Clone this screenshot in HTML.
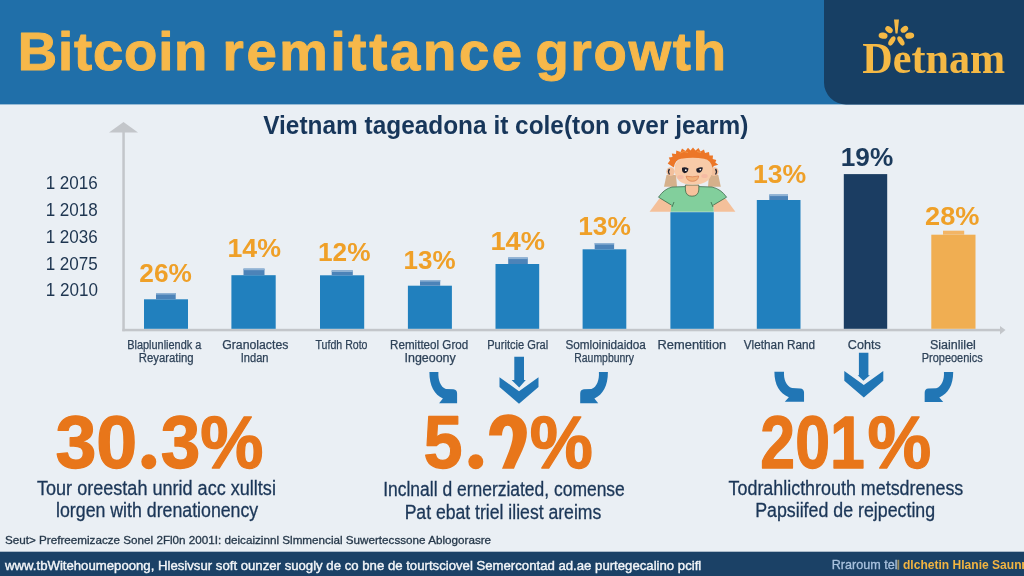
<!DOCTYPE html>
<html><head><meta charset="utf-8">
<style>
html,body{margin:0;padding:0;background:#e9eef3;}
body{width:1024px;height:576px;overflow:hidden;}
svg{display:block;will-change:transform;}

</style></head><body>
<svg width="1024" height="576" viewBox="0 0 1024 576">
<defs>
<path id="carr" d="M0,0 L9,0 C8.5,8 11,15 16.5,17 L24,17.3 Q27.7,17.6 27.7,21.5 L27.7,31.3 L9.7,31.3 L13.5,26.5 C5,22.5 0,14 0,0 Z"/>
<path id="chev" d="M0,0 L19.5,14 L39,0 L39,9.7 L19.5,26.5 L0,9.7 Z"/>
</defs>
<rect x="0" y="0" width="1024" height="576" fill="#eaeff4"/>
<rect x="0" y="0" width="1024" height="104.4" fill="#206fa9"/>
<path d="M824,0 L1024,0 L1024,104.4 L846,104.4 A22,22 0 0 1 824,82.4 Z" fill="#173f64"/>
<g fill="#f5b945">
<path d="M894,19.6 L899,19.6 L897.5,33.4 L895.5,33.4 Z"/>
<ellipse cx="889" cy="29.6" rx="4.1" ry="2.9" transform="rotate(35 889 29.6)"/>
<ellipse cx="904.4" cy="29.3" rx="4.1" ry="2.9" transform="rotate(-35 904.4 29.3)"/>
<ellipse cx="883.1" cy="35.6" rx="4.5" ry="3.1" transform="rotate(8 883.1 35.6)"/>
<ellipse cx="909.7" cy="35.6" rx="4.5" ry="3.1" transform="rotate(-8 909.7 35.6)"/>
<ellipse cx="891.9" cy="40.9" rx="5.2" ry="2.6" transform="rotate(-58 891.9 40.9)"/>
<ellipse cx="900.9" cy="40.9" rx="5.2" ry="2.6" transform="rotate(58 900.9 40.9)"/>
</g>
<g fill="#c3c6ca">
<rect x="122.3" y="130" width="2.5" height="201.2"/>
<path d="M109,132.6 L123.5,122 L138,132.6 Z"/>
<rect x="122.3" y="328.8" width="878" height="2.5"/>
<path d="M1000,326 L1005.5,330 L1000,334.6 Z"/>
</g>
<g fill="#2180be">
<rect x="144" y="299.3" width="44" height="29.5"/>
<rect x="231.4" y="275.2" width="44.3" height="53.6"/>
<rect x="320" y="275.3" width="44.2" height="53.5"/>
<rect x="407.9" y="285.7" width="44" height="43.1"/>
<rect x="495.5" y="264" width="43.7" height="64.8"/>
<rect x="582.6" y="249.3" width="43.7" height="79.5"/>
<rect x="670.4" y="212.2" width="43.4" height="116.6"/>
<rect x="756.8" y="200" width="43.7" height="128.8"/>
</g>
<rect x="843.8" y="174.1" width="43.4" height="154.7" fill="#1b3d62"/>
<rect x="931.3" y="234.7" width="44.2" height="94.1" fill="#f0ae52"/>
<g fill="#4c83b8">
<rect x="156" y="293" width="19.7" height="6.3"/>
<rect x="243.5" y="268.6" width="21" height="6.6"/>
<rect x="331.7" y="270.4" width="21.1" height="4.9"/>
<rect x="420" y="280" width="20.2" height="5.7"/>
<rect x="508.2" y="257.5" width="19.6" height="6.5"/>
<rect x="594.7" y="243" width="19.4" height="6.3"/>
<rect x="769.3" y="194.5" width="18.7" height="5.5"/>
</g>
<g fill="#8fb2d4">
<rect x="156" y="293" width="19.7" height="1.6"/>
<rect x="243.5" y="268.6" width="21" height="1.6"/>
<rect x="331.7" y="270.4" width="21.1" height="1.6"/>
<rect x="420" y="280" width="20.2" height="1.6"/>
<rect x="508.2" y="257.5" width="19.6" height="1.6"/>
<rect x="594.7" y="243" width="19.4" height="1.6"/>
<rect x="769.3" y="194.5" width="18.7" height="1.6"/>
</g>

<rect x="943" y="230.7" width="21.2" height="4" fill="#f3b565"/>
<g id="kid">
<path d="M649.6,211.8 L659,199 L666,197 L672,205 L671,211.8 Z" fill="#f4c09a"/>
<path d="M735.4,211.8 L726,199 L719,197 L713,205 L714,211.8 Z" fill="#f4c09a"/>
<path d="M664,186.8 L666.5,175 L676,175 L677,186.8 Z" fill="#d5b08b"/>
<path d="M720.8,186.8 L718.3,175 L709,175 L708,186.8 Z" fill="#d5b08b"/>
<path d="M658.5,197.2 Q664,189 672,187 L685.4,186.6 L698.8,186.6 L712,187 Q721,189 726.6,197.2 L713.2,205.2 L713.8,211.8 L670.6,211.8 L671.4,205.2 Z" fill="#82cf9c"/>
<path d="M658.5,197.2 L671.6,205.2 M726.6,197.2 L713.2,205.2 M658.5,197.2 Q664,189 672,187 L685.4,186.6 M698.8,186.6 L712,187 Q721,189 726.6,197.2 M674,202 L672,207 M711,202 L713,207" fill="none" stroke="#2f5a3e" stroke-width="0.7"/>
<path d="M685.4,185 L685.4,190 Q686,196.2 692,196.2 Q698.2,196.2 698.8,190 L698.8,185 Z" fill="#f6c29c" stroke="#2f5a3e" stroke-width="0.7"/>
<ellipse cx="670.6" cy="171.6" rx="4.2" ry="4.3" fill="#f3c09c"/>
<ellipse cx="714.4" cy="171.6" rx="4.2" ry="4.3" fill="#f3c09c"/>
<path d="M669.5,169 Q667.5,171.5 669.5,174.5 M715.5,169 Q717.5,171.5 715.5,174.5" fill="none" stroke="#2a2a33" stroke-width="1.3"/>
<path d="M674.6,169 Q674.8,184.8 692.5,184.8 Q712.2,184.8 712.3,169 Q712.3,156.5 692.5,156.5 Q674.6,156.5 674.6,169 Z" fill="#f8cba8"/>
<ellipse cx="680.5" cy="177" rx="3.2" ry="2" fill="#f4b0a0" opacity="0.6"/>
<ellipse cx="704.5" cy="176" rx="3.2" ry="2" fill="#f4b0a0" opacity="0.6"/>
<path d="M667.7,163.5 L670,160.5 L668.8,157.5 L672.5,157 L671.8,153.5 L676,154 L676.3,150.5 L680.5,152 L682,148.5 L685.5,151 L688,147.8 L690.5,150.5 L693,147.5 L695.5,150.5 L698.5,148 L700.5,151.5 L704,149.5 L705,153 L709,152 L709.5,155.5 L713,155.5 L712.7,159 L716.3,160 L715.3,162.5 L718.3,164.8 L713.8,166 L712.5,168 Q711,160 704,158.8 Q693,156.5 681,158.8 Q675,160 673.8,167.5 L671.5,166 Z" fill="#ec7627"/>
<path d="M680,153 L684,151.5 L688,152.5 M697,151.5 L701,152.5" stroke="#f39a4e" stroke-width="0.8" fill="none"/>
<path d="M682,167.8 Q685,166.5 688.5,168.5 Q688,173 684.5,173.2 Q682,172.5 682,170 Z" fill="#1e1e2a"/>
<path d="M696.3,168.8 Q699.5,166.5 702.8,167.6 Q702.6,171.5 699.5,172.8 Q696.5,173 696.3,170.5 Z" fill="#1e1e2a"/>
<circle cx="685.8" cy="170.2" r="0.9" fill="#fff"/>
<circle cx="700.3" cy="169.6" r="0.9" fill="#fff"/>
<path d="M686.1,176.2 Q692.4,177.6 698.7,176 Q698,181.3 692.4,181.3 Q687,181.3 686.1,176.2 Z" fill="#f2b27a" stroke="#d97a4a" stroke-width="0.7"/>
</g>
<g fill="#2176b5">
<use href="#carr" transform="translate(429.4,372)"/>
<use href="#carr" transform="translate(607.9,372) scale(-1,1)"/>
<use href="#carr" transform="translate(774.4,371.8) scale(1.07,0.96)"/>
<use href="#carr" transform="translate(953.2,372) scale(-1.03,0.96)"/>
<path d="M514.3,356.8 L524,356.8 L524,380.1 L525.8,380.1 L519.2,387.4 L511.6,380.1 L514.3,380.1 Z"/>
<use href="#chev" transform="translate(499.5,377.2)"/>
<path d="M858.9,352.8 L868.4,352.8 L868.4,375.2 L869.9,375.2 L863.4,380.7 L857.7,375.2 L858.9,375.2 Z"/>
<use href="#chev" transform="translate(844.3,371)"/>
</g>
<path d="M489,435.4 L502,435.4 C502.5,429 504.5,425.8 507.5,425.8 C511,425.8 513.2,429.5 512.8,436 C512.5,445 506,458 502,468.7 L514,468.7 C519,456 526.9,445 526.9,432.5 C526.9,421 519,414.3 508,414.3 C496,414.3 489.5,423 489,435.4 Z" fill="#e8761a"/>
<circle cx="148.8" cy="461.8" r="7.5" fill="#e8761a"/>
<circle cx="475.8" cy="461.8" r="7.5" fill="#e8761a"/>
<rect x="0" y="551.7" width="1024" height="24.3" fill="#1b4166"/>
<rect x="897.4" y="559.8" width="1.8" height="10" fill="#9c8d5e"/>

<g id="texts">
<text id="t1" x="0" transform="translate(17.81,0) scale(1.0,1)" y="70.4" font-size="54.5" fill="#f7b84a" font-family='"Liberation Sans",sans-serif' font-weight="bold" textLength="189.61" lengthAdjust="spacing" stroke="#f7b84a" stroke-width="1.0" stroke-linejoin="round">Bitcoin</text>
<text id="t2" x="0" transform="translate(222.51,0) scale(1.0,1)" y="70.4" font-size="54.5" fill="#f7b84a" font-family='"Liberation Sans",sans-serif' font-weight="bold" textLength="299.67" lengthAdjust="spacing" stroke="#f7b84a" stroke-width="1.0" stroke-linejoin="round">remittance</text>
<text id="t3" x="0" transform="translate(535.46,0) scale(1.0,1)" y="70.4" font-size="54.5" fill="#f7b84a" font-family='"Liberation Sans",sans-serif' font-weight="bold" textLength="190.67" lengthAdjust="spacing" stroke="#f7b84a" stroke-width="1.0" stroke-linejoin="round">growth</text>
<text id="logo" x="862.29" y="73.2" font-size="44" fill="#f5b945" font-family='"Liberation Serif",serif' font-weight="bold" textLength="142.90" lengthAdjust="spacingAndGlyphs">Detnam</text>
<text id="sub" x="263.20" y="133.5" font-size="25" fill="#17365a" font-family='"Liberation Sans",sans-serif' font-weight="bold" textLength="485.27" lengthAdjust="spacingAndGlyphs">Vietnam tageadona it cole(ton over jearm)</text>
<text id="y0" x="45.66" y="188.7" font-size="19" fill="#1e3550" font-family='"Liberation Sans",sans-serif' textLength="52.14" lengthAdjust="spacingAndGlyphs">1 2016</text>
<text id="y1" x="45.66" y="215.6" font-size="19" fill="#1e3550" font-family='"Liberation Sans",sans-serif' textLength="52.14" lengthAdjust="spacingAndGlyphs">1 2018</text>
<text id="y2" x="45.66" y="242.6" font-size="19" fill="#1e3550" font-family='"Liberation Sans",sans-serif' textLength="52.14" lengthAdjust="spacingAndGlyphs">1 2036</text>
<text id="y3" x="45.66" y="269.5" font-size="19" fill="#1e3550" font-family='"Liberation Sans",sans-serif' textLength="52.14" lengthAdjust="spacingAndGlyphs">1 2075</text>
<text id="y4" x="45.66" y="296.4" font-size="19" fill="#1e3550" font-family='"Liberation Sans",sans-serif' textLength="52.25" lengthAdjust="spacingAndGlyphs">1 2010</text>
<text id="p0" x="139.37" y="282" font-size="26" fill="#efa028" font-family='"Liberation Sans",sans-serif' font-weight="bold" textLength="52.48" lengthAdjust="spacingAndGlyphs">26%</text>
<text id="p1" x="227.45" y="256.7" font-size="26" fill="#efa028" font-family='"Liberation Sans",sans-serif' font-weight="bold" textLength="53.51" lengthAdjust="spacingAndGlyphs">14%</text>
<text id="p2" x="318.00" y="260.8" font-size="26" fill="#efa028" font-family='"Liberation Sans",sans-serif' font-weight="bold" textLength="52.49" lengthAdjust="spacingAndGlyphs">12%</text>
<text id="p3" x="403.60" y="269.2" font-size="26" fill="#efa028" font-family='"Liberation Sans",sans-serif' font-weight="bold" textLength="52.05" lengthAdjust="spacingAndGlyphs">13%</text>
<text id="p4" x="490.43" y="249.9" font-size="26" fill="#efa028" font-family='"Liberation Sans",sans-serif' font-weight="bold" textLength="54.58" lengthAdjust="spacingAndGlyphs">14%</text>
<text id="p5" x="578.17" y="234.8" font-size="26" fill="#efa028" font-family='"Liberation Sans",sans-serif' font-weight="bold" textLength="52.71" lengthAdjust="spacingAndGlyphs">13%</text>
<text id="p6" x="752.92" y="183.4" font-size="26" fill="#efa028" font-family='"Liberation Sans",sans-serif' font-weight="bold" textLength="53.31" lengthAdjust="spacingAndGlyphs">13%</text>
<text id="p7" x="925.04" y="224.9" font-size="26" fill="#efa028" font-family='"Liberation Sans",sans-serif' font-weight="bold" textLength="54.38" lengthAdjust="spacingAndGlyphs">28%</text>
<text id="p19" x="840.78" y="165.8" font-size="26" fill="#1b3a5c" font-family='"Liberation Sans",sans-serif' font-weight="bold" textLength="52.47" lengthAdjust="spacingAndGlyphs">19%</text>
<text id="c0a" x="127.22" y="349.3" font-size="12.5" fill="#2e4258" font-family='"Liberation Sans",sans-serif' textLength="74.15" lengthAdjust="spacingAndGlyphs" stroke="#2e4258" stroke-width="0.25">Blaplunliendk a</text>
<text id="c0b" x="138.74" y="361.6" font-size="12.5" fill="#2e4258" font-family='"Liberation Sans",sans-serif' textLength="54.93" lengthAdjust="spacingAndGlyphs" stroke="#2e4258" stroke-width="0.25">Reyarating</text>
<text id="c1a" x="222.20" y="349.3" font-size="12.5" fill="#2e4258" font-family='"Liberation Sans",sans-serif' textLength="66.21" lengthAdjust="spacingAndGlyphs" stroke="#2e4258" stroke-width="0.25">Granolactes</text>
<text id="c1b" x="240.77" y="361.6" font-size="12.5" fill="#2e4258" font-family='"Liberation Sans",sans-serif' textLength="27.77" lengthAdjust="spacingAndGlyphs" stroke="#2e4258" stroke-width="0.25">Indan</text>
<text id="c2a" x="315.54" y="349.3" font-size="12.5" fill="#2e4258" font-family='"Liberation Sans",sans-serif' textLength="51.96" lengthAdjust="spacingAndGlyphs" stroke="#2e4258" stroke-width="0.25">Tufdh Roto</text>
<text id="c3a" x="390.06" y="349.3" font-size="12.5" fill="#2e4258" font-family='"Liberation Sans",sans-serif' textLength="78.13" lengthAdjust="spacingAndGlyphs" stroke="#2e4258" stroke-width="0.25">Remitteol Grod</text>
<text id="c3b" x="404.50" y="361.6" font-size="12.5" fill="#2e4258" font-family='"Liberation Sans",sans-serif' textLength="51.28" lengthAdjust="spacingAndGlyphs" stroke="#2e4258" stroke-width="0.25">Ingeoony</text>
<text id="c4a" x="487.21" y="349.3" font-size="12.5" fill="#2e4258" font-family='"Liberation Sans",sans-serif' textLength="61.02" lengthAdjust="spacingAndGlyphs" stroke="#2e4258" stroke-width="0.25">Puritcie Gral</text>
<text id="c5a" x="565.41" y="349.3" font-size="12.5" fill="#2e4258" font-family='"Liberation Sans",sans-serif' textLength="80.48" lengthAdjust="spacingAndGlyphs" stroke="#2e4258" stroke-width="0.25">Somloinidaidoa</text>
<text id="c5b" x="574.28" y="361.6" font-size="12.5" fill="#2e4258" font-family='"Liberation Sans",sans-serif' textLength="59.70" lengthAdjust="spacingAndGlyphs" stroke="#2e4258" stroke-width="0.25">Raumpbunry</text>
<text id="c6a" x="657.55" y="349.3" font-size="12.5" fill="#2e4258" font-family='"Liberation Sans",sans-serif' textLength="68.73" lengthAdjust="spacingAndGlyphs" stroke="#2e4258" stroke-width="0.25">Rementition</text>
<text id="c7a" x="743.77" y="349.3" font-size="12.5" fill="#2e4258" font-family='"Liberation Sans",sans-serif' textLength="71.35" lengthAdjust="spacingAndGlyphs" stroke="#2e4258" stroke-width="0.25">Vlethan Rand</text>
<text id="c8a" x="847.87" y="349.3" font-size="12.5" fill="#2e4258" font-family='"Liberation Sans",sans-serif' textLength="32.94" lengthAdjust="spacingAndGlyphs" stroke="#2e4258" stroke-width="0.25">Cohts</text>
<text id="c9a" x="930.00" y="349.3" font-size="12.5" fill="#2e4258" font-family='"Liberation Sans",sans-serif' textLength="45.86" lengthAdjust="spacingAndGlyphs" stroke="#2e4258" stroke-width="0.25">Siainlilel</text>
<text id="c9b" x="921.77" y="361.6" font-size="12.5" fill="#2e4258" font-family='"Liberation Sans",sans-serif' textLength="60.95" lengthAdjust="spacingAndGlyphs" stroke="#2e4258" stroke-width="0.25">Propeoenics</text>
<text id="b1" x="55.48" y="468" font-size="75" fill="#e8761a" font-family='"Liberation Sans",sans-serif' font-weight="bold" textLength="81.79" lengthAdjust="spacingAndGlyphs" stroke="#e8761a" stroke-width="1.3" stroke-linejoin="round">30</text>
<text id="b1b" x="160.64" y="468" font-size="75" fill="#e8761a" font-family='"Liberation Sans",sans-serif' font-weight="bold" textLength="102.74" lengthAdjust="spacingAndGlyphs" stroke="#e8761a" stroke-width="1.3" stroke-linejoin="round">3%</text>
<text id="b2" x="423.42" y="468" font-size="75" fill="#e8761a" font-family='"Liberation Sans",sans-serif' font-weight="bold" textLength="39.04" lengthAdjust="spacingAndGlyphs" stroke="#e8761a" stroke-width="1.3" stroke-linejoin="round">5</text>
<text id="b2p" x="529.65" y="468" font-size="75" fill="#e8761a" font-family='"Liberation Sans",sans-serif' font-weight="bold" textLength="63.10" lengthAdjust="spacingAndGlyphs" stroke="#e8761a" stroke-width="1.3" stroke-linejoin="round">%</text>
<text id="b3" x="760.36" y="468" font-size="75" fill="#e8761a" font-family='"Liberation Sans",sans-serif' font-weight="bold" textLength="104.42" lengthAdjust="spacingAndGlyphs" stroke="#e8761a" stroke-width="1.3" stroke-linejoin="round">201</text>
<text id="b3p" x="867.45" y="468" font-size="75" fill="#e8761a" font-family='"Liberation Sans",sans-serif' font-weight="bold" textLength="63.73" lengthAdjust="spacingAndGlyphs" stroke="#e8761a" stroke-width="1.3" stroke-linejoin="round">%</text>
<text id="d1" x="37.00" y="495.4" font-size="19.5" fill="#1b3657" font-family='"Liberation Sans",sans-serif' textLength="238.91" lengthAdjust="spacingAndGlyphs" stroke="#1b3657" stroke-width="0.3">Tour oreestah unrid acc xulltsi</text>
<text id="d2" x="56.07" y="517" font-size="19.5" fill="#1b3657" font-family='"Liberation Sans",sans-serif' textLength="202.16" lengthAdjust="spacingAndGlyphs" stroke="#1b3657" stroke-width="0.3">lorgen with drenationency</text>
<text id="d3" x="383.21" y="496.3" font-size="19.5" fill="#1b3657" font-family='"Liberation Sans",sans-serif' textLength="241.59" lengthAdjust="spacingAndGlyphs" stroke="#1b3657" stroke-width="0.3">Inclnall d ernerziated, comense</text>
<text id="d4" x="404.64" y="518.5" font-size="19.5" fill="#1b3657" font-family='"Liberation Sans",sans-serif' textLength="196.67" lengthAdjust="spacingAndGlyphs" stroke="#1b3657" stroke-width="0.3">Pat ebat triel iliest areims</text>
<text id="d5" x="728.54" y="495" font-size="19.5" fill="#1b3657" font-family='"Liberation Sans",sans-serif' textLength="234.74" lengthAdjust="spacingAndGlyphs" stroke="#1b3657" stroke-width="0.3">Todrahlicthrouth metsdreness</text>
<text id="d6" x="755.15" y="516.5" font-size="19.5" fill="#1b3657" font-family='"Liberation Sans",sans-serif' textLength="180.02" lengthAdjust="spacingAndGlyphs" stroke="#1b3657" stroke-width="0.3">Papsiifed de rejpecting</text>
<text id="src" x="4.98" y="543.8" font-size="11.5" fill="#26384a" font-family='"Liberation Sans",sans-serif' textLength="486.13" lengthAdjust="spacingAndGlyphs" stroke="#26384a" stroke-width="0.3">Seut&gt; Prefreemizacze Sonel 2Fl0n 2001I: deicaizinnl Slmmencial Suwertecssone Ablogorasre</text>
<text id="f1" x="5.00" y="569.5" font-size="13" fill="#f2f5f8" font-family='"Liberation Sans",sans-serif' textLength="696.24" lengthAdjust="spacingAndGlyphs" stroke="#f2f5f8" stroke-width="0.4">www.tbWitehoumepoong, Hlesivsur soft ounzer suogly de co bne de tourtsciovel Semercontad ad.ae purtegecalino pcifl</text>
<text id="f2" x="831.63" y="569.2" font-size="13" fill="#a9c2de" font-family='"Liberation Sans",sans-serif' textLength="65.88" lengthAdjust="spacingAndGlyphs" stroke="#a9c2de" stroke-width="0.3">Rraroum tel</text>
<text id="f3" x="903.00" y="569.2" font-size="13" fill="#f2b441" font-family='"Liberation Sans",sans-serif' font-weight="bold" textLength="118.56" lengthAdjust="spacingAndGlyphs">dlchetin Hlanie Saun</text>
<text id="f4" x="1021.30" y="569.2" font-size="13" fill="#f2b441" font-family='"Liberation Sans",sans-serif' font-weight="bold">n</text>
</g>
</svg>
</body></html>
